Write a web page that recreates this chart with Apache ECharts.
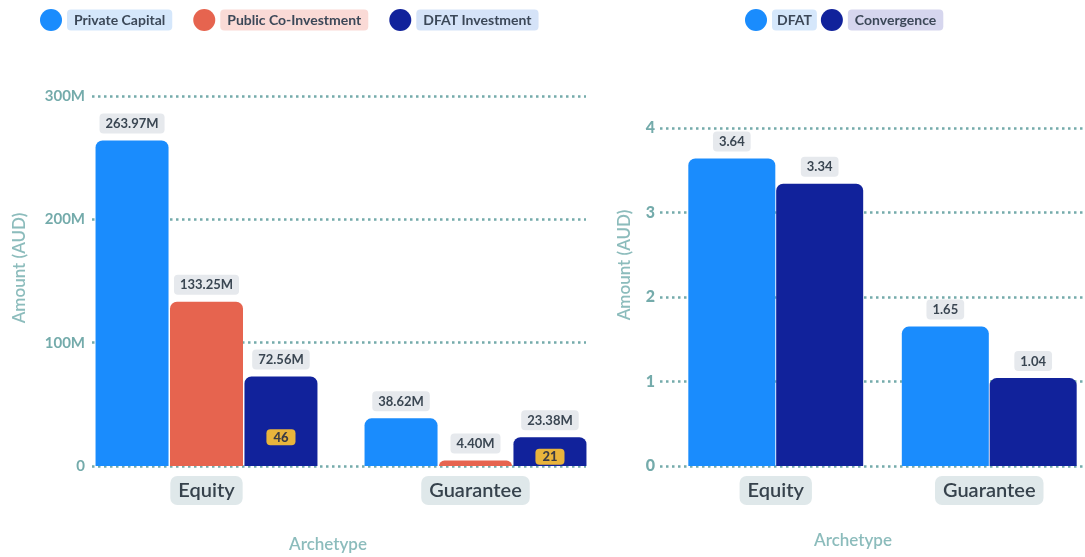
<!DOCTYPE html>
<html>
<head>
<meta charset="utf-8">
<script src="https://cdn.jsdelivr.net/npm/echarts@6/dist/echarts.min.js"></script>
<style>
  html, body { margin: 0; padding: 0; background: #ffffff; }
  #chart { width: 1085px; height: 557px; }
</style>
</head>
<body>
<div id="chart"></div>
<script>
// Categories shared by both panels
const archetypes = ['Equity', 'Guarantee'];

// Left panel: amounts in millions of AUD
const privateCapital = [263.97, 38.62];
const publicCoInvestment = [133.25, 4.40];
const dfatInvestment = [72.56, 23.38];
const dealCounts = [46, 21];
const leftTicks = [0, 100, 200, 300];

// Right panel: leverage ratios
const dfatRatio = [3.64, 1.65];
const convergenceRatio = [3.34, 1.04];
const rightTicks = [0, 1, 2, 3, 4];

const FONT = 'Lato, "Noto Sans", sans-serif';
const C_BLUE = '#1a8cfd';
const C_CORAL = '#e6644f';
const C_NAVY = '#11229b';
const C_TEAL = '#74abab';
const C_TEAL_TITLE = '#8cbcbc';
const C_TEXT = '#3a4652';

const chart = echarts.init(document.getElementById('chart'), null, { renderer: 'canvas' });

const valueLabel = (fmt) => ({
  show: true,
  position: 'top',
  distance: 7,
  formatter: fmt,
  backgroundColor: '#e6e9ed',
  padding: [4, 6, 3, 6],
  borderRadius: 4,
  color: C_TEXT,
  fontFamily: FONT,
  fontWeight: 'bold',
  fontSize: 13
});

const categoryAxisCommon = {
  type: 'category',
  data: archetypes,
  axisTick: { show: false },
  axisLine: { show: false },
  axisLabel: {
    margin: 10,
    fontFamily: FONT,
    fontSize: 20,
    fontWeight: 600,
    color: '#36424c',
    backgroundColor: '#dfe8ea',
    padding: [5, 8, 4, 8],
    borderRadius: 7
  },
  splitLine: { show: false }
};

const splitLineStyle = { show: true, lineStyle: { color: C_TEAL, width: 2.5, type: [2.5, 3.5] } };

const legendText = (bg) => ({
  backgroundColor: bg,
  padding: [4, 7, 3, 7],
  borderRadius: 4,
  color: '#3c4858',
  fontFamily: FONT,
  fontWeight: 'bold',
  fontSize: 14
});

const mFmt = (p) => p.value.toFixed(2) + 'M';
const rFmt = (p) => p.value.toFixed(2);

const titleFont = '600 17px ' + FONT;

const option = {
  backgroundColor: '#ffffff',
  animation: false,
  textStyle: { fontFamily: FONT },
  legend: [
    {
      left: 35, top: 4,
      icon: 'circle', itemWidth: 22, itemHeight: 22, itemGap: 21,
      data: [
        { name: 'Private Capital', textStyle: legendText('#d5e7fb') },
        { name: 'Public Co-Investment', textStyle: legendText('#fadad6') },
        { name: 'DFAT Investment', textStyle: legendText('#d5e3f8') }
      ]
    },
    {
      left: 740, top: 4,
      icon: 'circle', itemWidth: 22, itemHeight: 22, itemGap: 4,
      data: [
        { name: 'DFAT', textStyle: Object.assign(legendText('#d5e7fb'), { padding: [4, 5, 3, 5] }) },
        { name: 'Convergence', textStyle: legendText('#d6d6ee') }
      ]
    }
  ],
  grid: [
    // 0: left bars
    { left: 72, right: 475, top: 96, bottom: 91, outerBoundsMode: 'none' },
    // 1: right bars (band runs slightly past the right edge)
    { left: 669, right: -11, top: 128, bottom: 91, outerBoundsMode: 'none' },
    // 2: left dotted gridlines and tick labels
    { left: 92, right: 499, top: 96, bottom: 91, outerBoundsMode: 'none' },
    // 3: right dotted gridlines and tick labels
    { left: 660, right: 0, top: 128, bottom: 91, outerBoundsMode: 'none' }
  ],
  xAxis: [
    Object.assign({ gridIndex: 0 }, categoryAxisCommon),
    Object.assign({ gridIndex: 1 }, categoryAxisCommon),
    { gridIndex: 2, type: 'value', show: false },
    { gridIndex: 3, type: 'value', show: false }
  ],
  yAxis: [
    { gridIndex: 0, type: 'value', min: leftTicks[0], max: leftTicks[leftTicks.length - 1], interval: 100, show: false },
    { gridIndex: 1, type: 'value', min: rightTicks[0], max: rightTicks[rightTicks.length - 1], interval: 1, show: false },
    {
      gridIndex: 2, type: 'value', min: leftTicks[0], max: leftTicks[leftTicks.length - 1], interval: 100,
      axisLine: { show: false }, axisTick: { show: false },
      axisLabel: {
        margin: 7, color: C_TEAL, fontFamily: FONT, fontWeight: 'bold', fontSize: 15,
        formatter: (v) => (v === 0 ? '0' : v + 'M')
      },
      splitLine: splitLineStyle
    },
    {
      gridIndex: 3, type: 'value', min: rightTicks[0], max: rightTicks[rightTicks.length - 1], interval: 1,
      axisLine: { show: false }, axisTick: { show: false },
      axisLabel: { margin: 5, color: C_TEAL, fontFamily: FONT, fontWeight: 900, fontSize: 16 },
      splitLine: splitLineStyle
    }
  ],
  series: [
    {
      name: 'Private Capital', type: 'bar', xAxisIndex: 0, yAxisIndex: 0,
      data: privateCapital, barWidth: 73, barGap: '2%',
      itemStyle: { color: C_BLUE, borderRadius: [7, 7, 0, 0] },
      label: valueLabel(mFmt), z: 3
    },
    {
      name: 'Public Co-Investment', type: 'bar', xAxisIndex: 0, yAxisIndex: 0,
      data: publicCoInvestment, barWidth: 73, barGap: '2%',
      itemStyle: { color: C_CORAL, borderRadius: [7, 7, 0, 0] },
      label: valueLabel(mFmt), z: 3
    },
    {
      name: 'DFAT Investment', type: 'bar', xAxisIndex: 0, yAxisIndex: 0,
      data: dfatInvestment, barWidth: 73, barGap: '2%',
      itemStyle: { color: C_NAVY, borderRadius: [7, 7, 0, 0] },
      label: valueLabel(mFmt), z: 3,
      // deal count badge placed in the lower part of each bar
      markPoint: {
        symbol: 'rect', symbolSize: 1,
        itemStyle: { color: 'transparent' },
        label: {
          show: true, position: 'inside', formatter: (p) => String(p.value),
          backgroundColor: '#e8b43c', padding: [2, 7, 1, 7], borderRadius: 4,
          color: '#3b3b44', fontFamily: FONT, fontWeight: 900, fontSize: 13
        },
        data: dealCounts.map((c, i) => ({ coord: [i, dfatInvestment[i] * 0.32], value: c }))
      }
    },
    {
      name: 'DFAT', type: 'bar', xAxisIndex: 1, yAxisIndex: 1,
      data: dfatRatio, barWidth: 87, barGap: '1%',
      itemStyle: { color: C_BLUE, borderRadius: [7, 7, 0, 0] },
      label: valueLabel(rFmt), z: 3
    },
    {
      name: 'Convergence', type: 'bar', xAxisIndex: 1, yAxisIndex: 1,
      data: convergenceRatio, barWidth: 87, barGap: '1%',
      itemStyle: { color: C_NAVY, borderRadius: [7, 7, 0, 0] },
      label: valueLabel(rFmt), z: 3
    }
  ],
  graphic: [
    {
      type: 'text', x: 20, y: 268, rotation: Math.PI / 2,
      style: { text: 'Amount (AUD)', fill: C_TEAL_TITLE, font: titleFont, align: 'center', verticalAlign: 'middle' }
    },
    {
      type: 'text', x: 328, y: 545,
      style: { text: 'Archetype', fill: C_TEAL_TITLE, font: titleFont, align: 'center', verticalAlign: 'middle' }
    },
    {
      type: 'text', x: 625, y: 265, rotation: Math.PI / 2,
      style: { text: 'Amount (AUD)', fill: C_TEAL_TITLE, font: titleFont, align: 'center', verticalAlign: 'middle' }
    },
    {
      type: 'text', x: 853, y: 541,
      style: { text: 'Archetype', fill: C_TEAL_TITLE, font: titleFont, align: 'center', verticalAlign: 'middle' }
    }
  ]
};

chart.setOption(option);
</script>
</body>
</html>
